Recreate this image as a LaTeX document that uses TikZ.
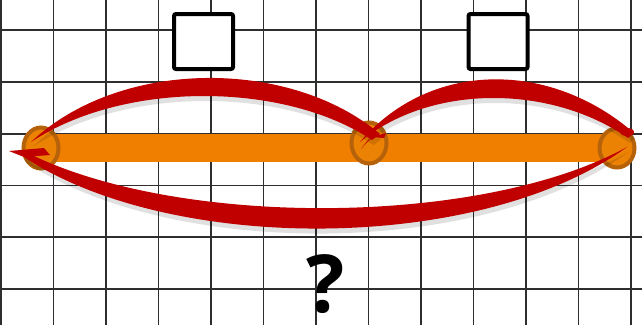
\documentclass[tikz,border=0pt]{standalone}
\usepackage{fontspec}
\newfontfamily\qfont{Open Sans}
\usetikzlibrary{shapes.geometric}
\definecolor{gridc}{HTML}{2E2E2E}
\definecolor{barc}{HTML}{F07F00}
\definecolor{dotfill}{HTML}{EC8204}
\definecolor{dotline}{HTML}{B5620A}
\definecolor{brush}{HTML}{C00000}
\tikzset{
  gridline/.style={draw=gridc, line width=1.8pt},
  slot/.style={draw=black, line width=4pt, rounded corners=2pt, minimum width=59pt, minimum height=55pt, inner sep=0pt, fill=white},
  dot/.style={ellipse, draw=dotline, fill=dotfill, line width=4pt, inner sep=0pt},
  stroke/.style={fill=brush},
  shade/.style={fill=black, opacity=0.12},
  qmark/.style={font=\qfont\bfseries\fontsize{80}{80}\selectfont, inner sep=0pt, anchor=base}
}
\begin{document}
\begin{tikzpicture}[x=1pt,y=-1pt]
\useasboundingbox (0,0) rectangle (642,325);
\fill[white] (0,0) rectangle (642,325);
% grid
\foreach \k in {0,...,12} \draw[gridline] ({1+52.5*\k},0) -- ({1+52.5*\k},325);
\foreach \k in {0,...,5} \draw[gridline] (0,{30+51.8*\k}) -- (642,{30+51.8*\k});
% boxes
\node[slot] (boxa) at (203.5,41.5) {};
\node[slot] (boxb) at (498,41.5) {};
% points
\coordinate (pa) at (41,148);
\coordinate (pb) at (369,143);
\coordinate (pc) at (617,148);
\draw[barc, line width=28pt] (pa) -- (pc);
\node[dot, minimum width=35pt, minimum height=41pt] (ca) at (pa) {};
\node[dot, minimum width=35pt, minimum height=41pt] (cb) at (pb) {};
\node[dot, minimum width=35pt, minimum height=39pt] (cc) at (pc) {};
% shadows
\begin{scope}[shift={(1.5,5)}]
\fill[shade] (31,142) .. controls (120,58) and (290,58) .. (380,134) -- (372,140) .. controls (285,82) and (125,80) .. (31,142) -- cycle;
\fill[shade] (360,142) .. controls (430,60) and (550,60) .. (634,133) -- (628,138) .. controls (550,84) and (430,84) .. (360,142) -- cycle;
\fill[shade] (22,150) .. controls (170,228) and (480,228) .. (627,147) .. controls (480,254) and (170,254) .. (24,157) -- cycle;
\end{scope}
% brush strokes
\fill[stroke] (31,142) .. controls (120,58) and (290,58) .. (380,134) -- (372,140) .. controls (285,82) and (125,80) .. (31,142) -- cycle;
\fill[stroke] (372,137) -- (386,133) -- (384,138) -- cycle;
\fill[stroke] (371,138) -- (361,149) -- (369,139) -- cycle;
\fill[stroke] (360,142) .. controls (430,60) and (550,60) .. (634,133) -- (628,138) .. controls (550,84) and (430,84) .. (360,142) -- cycle;
\fill[stroke] (627,132) ellipse [x radius=7pt, y radius=4pt];
\fill[stroke] (22,150) .. controls (170,228) and (480,228) .. (627,147) .. controls (480,254) and (170,254) .. (24,157) -- cycle;
\fill[stroke] (9,151) -- (44,148) -- (50,155) -- (24,157) -- cycle;
% question mark
\node[qmark] (q) at (326,312) {?};
\end{tikzpicture}
\end{document}
